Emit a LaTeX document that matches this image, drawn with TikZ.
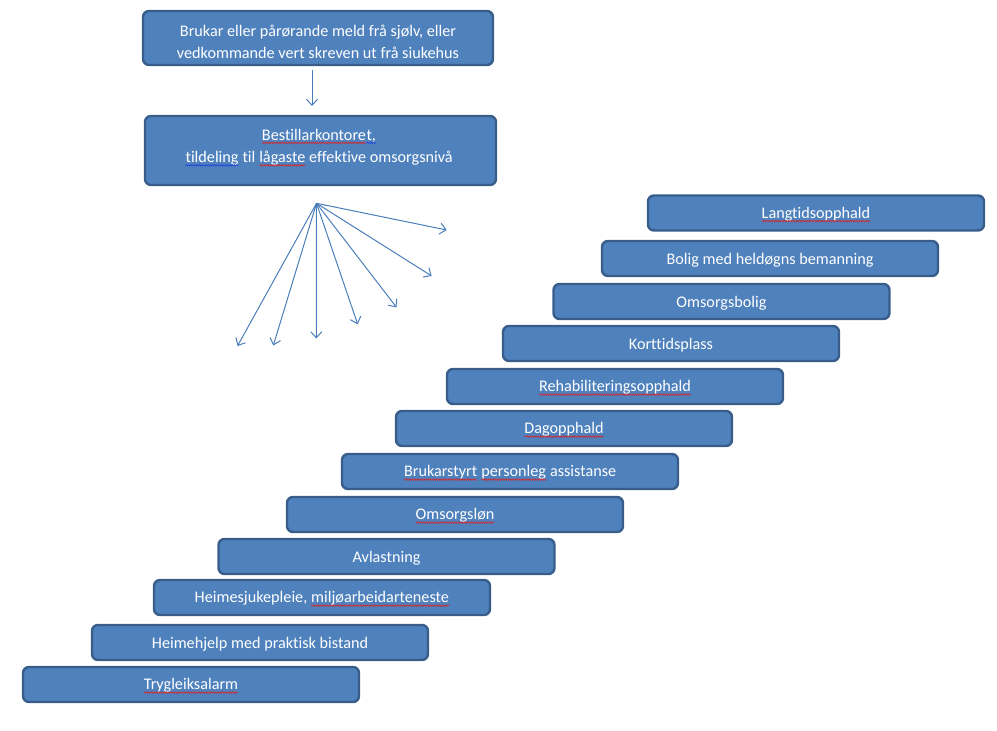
\documentclass[tikz,border=0pt]{standalone}
\usepackage{fontspec}
\setmainfont{Carlito}[Ligatures={NoCommon,NoContextual}]
\usetikzlibrary{arrows.meta,decorations.pathmorphing}
\definecolor{boxfill}{HTML}{4F81BD}
\definecolor{boxline}{HTML}{385D8A}
\definecolor{arrowcol}{HTML}{4A7EBB}
\definecolor{sqred}{HTML}{E02020}
\definecolor{sqblue}{HTML}{2040E0}
\newcommand\sqw[2][sqred]{\tikz[baseline=(sqwn.base)]{\node[inner sep=0pt,outer sep=0pt,draw=none,fill=none,text=white,anchor=base] (sqwn) {#2};\draw[#1,line width=0.5pt,decorate,decoration={snake,amplitude=0.8pt,segment length=2.2pt}] ([yshift=-2.8pt]sqwn.base west) -- ([yshift=-2.8pt]sqwn.base east);}}
\tikzset{
  box/.style={draw=boxline, fill=boxfill, line width=2.4pt, rounded corners=6pt, inner sep=0pt},
  stair/.style={box, minimum width=336pt, minimum height=35pt},
  txt/.style={text=white, font=\fontsize{16.2}{22.5}\selectfont, align=center, inner sep=0pt, yshift=-1.6pt},
  arr/.style={draw=arrowcol, line width=1pt, -{Straight Barb[length=6pt,width=11pt]}}
}
\begin{document}
\begin{tikzpicture}[x=1pt,y=-1pt]
\useasboundingbox (0,0) rectangle (997,731);
% top boxes
\node[box, minimum width=350pt, minimum height=54pt] (b1) at (318,38) {};
\node[txt] (t1) at (318,40) {Brukar eller pårørande meld frå sjølv, eller\\vedkommande vert skreven ut frå siukehus};
\node[box, minimum width=351pt, minimum height=69pt] (b2) at (320.5,150.5) {};
\node[txt] (t2) at (319,146) {\sqw{Bestillarkontore}\sqw[sqblue]{t,}\\\sqw[sqblue]{tildeling} til \sqw{lågaste} effektive omsorgsnivå};
% arrow down
\coordinate (a1) at (312,70);
\coordinate (a2) at (312,106);
\draw[arr] (a1) -- (a2);
% fan
\coordinate (fan) at (316.5,203.3);
\coordinate (f1) at (446.7,230);
\coordinate (f2) at (431.7,276);
\coordinate (f3) at (396.5,307.3);
\coordinate (f4) at (357.7,324.3);
\coordinate (f5) at (316.3,338.5);
\coordinate (f6) at (273.3,345.5);
\coordinate (f7) at (237.5,346);
\foreach \e in {f1,f2,f3,f4,f5,f6,f7} \draw[arr] (fan) -- (\e);
% stairs
\node[stair] (s1) at (816,213) {};
\node[txt] (s1t) at (816,213) {\sqw{Langtidsopphald}};
\node[stair] (s2) at (770,258.5) {};
\node[txt] (s2t) at (770,258.5) {Bolig med heldøgns bemanning};
\node[stair] (s3) at (721.5,301.5) {};
\node[txt] (s3t) at (721.5,301.5) {Omsorgsbolig};
\node[stair] (s4) at (671,343.5) {};
\node[txt] (s4t) at (671,343.5) {Korttidsplass};
\node[stair] (s5) at (615,386.5) {};
\node[txt] (s5t) at (615,386.5) {\sqw{Rehabiliteringsopphald}};
\node[stair] (s6) at (564,428.5) {};
\node[txt] (s6t) at (564,428.5) {\sqw{Dagopphald}};
\node[stair] (s7) at (510,471.5) {};
\node[txt] (s7t) at (510,471.5) {\sqw{Brukarstyrt} \sqw{personleg} assistanse};
\node[stair] (s8) at (455,514.5) {};
\node[txt] (s8t) at (455,514.5) {\sqw{Omsorgsløn}};
\node[stair] (s9) at (386.5,556.5) {};
\node[txt] (s9t) at (386.5,556.5) {Avlastning};
\node[stair] (s10) at (322,597.5) {};
\node[txt] (s10t) at (322,597.5) {Heimesjukepleie, \sqw{miljøarbeidarteneste}};
\node[stair] (s11) at (260,642.5) {};
\node[txt] (s11t) at (260,642.5) {Heimehjelp med praktisk bistand};
\node[stair] (s12) at (191,684.5) {};
\node[txt] (s12t) at (191,684.5) {\sqw{Trygleiksalarm}};
\end{tikzpicture}
\end{document}
